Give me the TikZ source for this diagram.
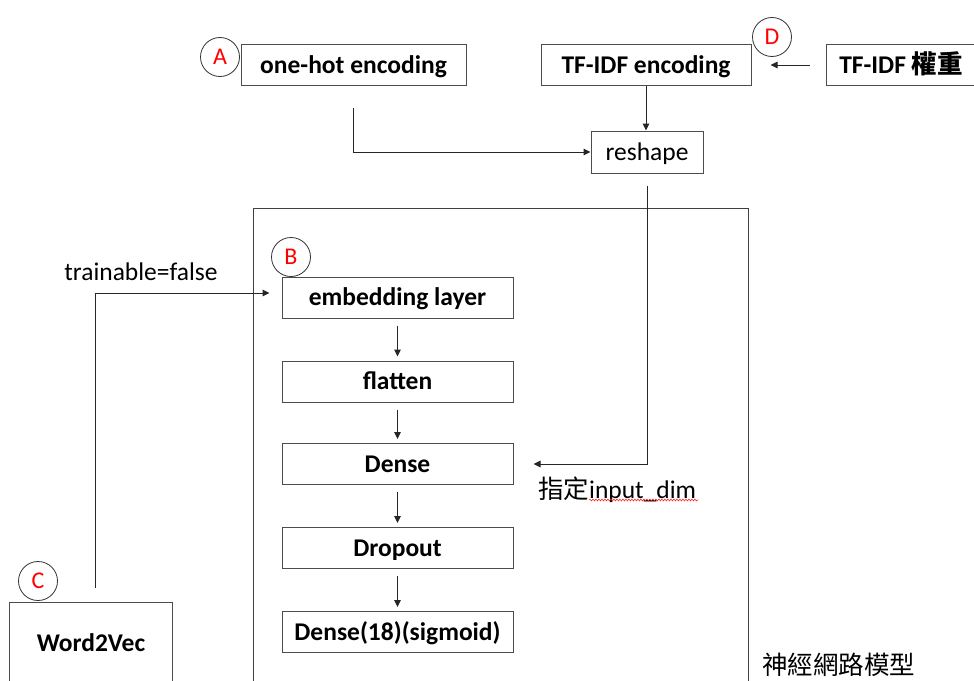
\documentclass[tikz,border=0pt]{standalone}
\usepackage{fontspec}
\setmainfont{Carlito}
\newfontfamily\cjk{Noto Sans CJK TC}
\usetikzlibrary{arrows.meta,decorations.pathmorphing}

\begin{document}
\begin{tikzpicture}[x=1pt,y=-1pt,
  box/.style={draw=black!70, line width=1pt, minimum height=41pt, inner sep=0pt,
              text height=19pt, text depth=3pt,
              font=\fontsize{25.5}{29}\selectfont\bfseries},
  plainbox/.style={box, font=\fontsize{25.5}{29}\selectfont},
  layer/.style={box, minimum width=231pt},
  tag/.style={draw=black!80, line width=0.8pt, circle, minimum size=39pt, inner sep=0pt,
              text=red, font=\fontsize{24}{26}\selectfont},
  link/.style={draw=black!85, line width=1pt, -{Triangle[length=7pt,width=6.5pt]}},
  lbl/.style={inner sep=0pt, font=\fontsize{25.5}{29}\selectfont}
]
\useasboundingbox (0,0) rectangle (974,680);
\clip (0,0) rectangle (974,680);
\fill[white] (0,0) rectangle (974,680);

% inputs
\node[box, minimum width=225pt] (onehot) at (353.5,65) {one-hot encoding};
\node[box, minimum width=210pt] (tfidf) at (646,65) {TF-IDF encoding};
\node[box, minimum width=150pt] (weight) at (901,65) {TF-IDF {\cjk 權重}};
\node[plainbox, minimum width=112pt, minimum height=42pt] (reshape) at (647,152) {reshape};

% network container
\node[draw=black!75, line width=1pt, anchor=north west, minimum width=495pt,
      minimum height=500pt, inner sep=0pt] (model) at (253,208) {};
\node[lbl, anchor=west] (modellbl) at (762,665) {\cjk 神經網路模型};

% layers
\node[layer] (embed) at (397.5,297.5) {embedding layer};
\node[layer] (flat) at (397.5,381.5) {flatten};
\node[layer] (dense) at (397.5,464) {Dense};
\node[layer] (drop) at (397.5,548) {Dropout};
\node[layer] (out) at (397.5,632) {Dense(18)(sigmoid)};

% word vectors
\node[box, anchor=north west, minimum width=163pt, minimum height=82pt] (w2v) at (9,602) {Word2Vec};

% markers
\node[tag] (tagA) at (220,57) {A};
\node[tag] (tagB) at (291,257) {B};
\node[tag] (tagC) at (38,581) {C};
\node[tag] (tagD) at (772,37) {D};

% labels
\node[lbl, anchor=center] (trainlbl) at (141,272) {trainable=false};
\node[lbl, anchor=west] (dimlbl) at (538,490) {{\cjk 指定}input\_dim};
\coordinate (squigA) at (589,500);
\coordinate (squigB) at (698,500);
\draw[red!85, line width=0.6pt, decorate,
      decoration={snake, amplitude=0.9pt, segment length=3pt}] (squigA) -- (squigB);

% connectors
\coordinate (ohstart) at ([yshift=-22pt]onehot.south);
\draw[link] (ohstart) |- (reshape.west);
\draw[link] (tfidf.south) -- (tfidf.south |- reshape.north);
\draw[link] ([xshift=-16pt]weight.west) -- ([xshift=19pt]tfidf.east);
\coordinate (rsstart) at ([yshift=-12pt]reshape.south);
\draw[link] (rsstart) |- ([xshift=20pt]dense.east);

\coordinate (w2vstart) at (95,588);
\draw[link] (w2vstart) |- ([xshift=-12pt,yshift=4.5pt]embed.west);

\foreach \a/\b in {embed/flat, flat/dense, dense/drop, drop/out}
  \draw[link, shorten <=7pt, shorten >=4pt] (\a.south) -- (\b.north);
\end{tikzpicture}
\end{document}
